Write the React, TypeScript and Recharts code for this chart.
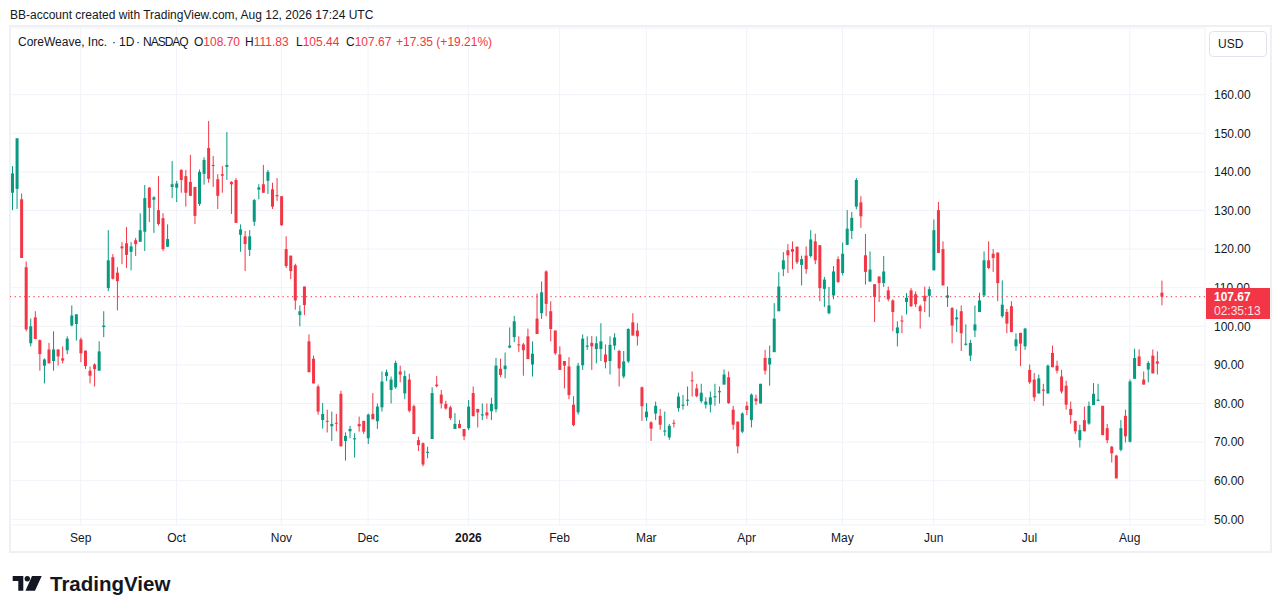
import React from "react";
import { Bar, CartesianGrid, ComposedChart, ReferenceLine, XAxis, YAxis } from "recharts";

const UP = "#089981";
const DOWN = "#F23645";
const TEXT = "#131722";
const GRID = "#F0F3FA";
const FONT = "'Liberation Sans', Arial, sans-serif";

// daily candles, [open, high, low, close]
const aug25 = [
  [134.6, 141.5, 130.1, 139.6], [135.6, 148.7, 130.4, 148.7], [132.9, 134.4, 117.7, 117.7],
  [115.3, 116.8, 98.7, 99.2], [95.6, 102.0, 94.8, 100.0], [102.3, 103.9, 96.7, 96.7],
  [96.4, 96.6, 88.5, 92.8], [89.8, 91.7, 85.2, 91.4], [94.0, 95.7, 90.4, 90.4],
  [91.0, 98.7, 88.5, 94.0], [94.0, 94.0, 89.8, 92.2], [91.7, 94.8, 90.4, 91.1],
  [93.8, 97.4, 92.8, 96.8], [100.2, 105.4, 100.0, 102.8], [100.6, 103.1, 96.3, 103.1],
];
const sep25 = [
  [96.6, 97.1, 90.7, 93.0], [93.7, 93.7, 88.9, 89.7], [88.5, 89.6, 85.2, 87.2],
  [90.1, 90.4, 84.4, 88.9], [88.5, 96.1, 88.5, 93.5], [99.8, 103.9, 97.2, 100.2],
  [109.9, 124.9, 109.1, 117.1], [117.9, 118.7, 112.1, 112.3], [113.9, 115.3, 104.1, 111.7],
  [120.7, 121.8, 116.1, 120.2], [121.5, 125.7, 115.1, 118.5], [119.3, 121.8, 114.5, 120.7],
  [122.3, 122.9, 118.2, 121.3], [121.9, 129.3, 121.9, 124.9], [124.5, 136.6, 119.5, 133.2],
  [135.9, 136.1, 127.0, 130.7], [132.8, 133.7, 124.2, 133.4], [130.1, 138.9, 126.1, 126.5],
  [128.0, 129.3, 119.5, 120.0], [120.6, 126.4, 120.6, 122.6], [136.1, 142.8, 133.2, 136.8],
];
const oct25 = [
  [135.9, 137.7, 132.2, 137.0], [140.5, 140.7, 134.6, 137.9], [138.9, 140.5, 131.0, 134.6],
  [137.4, 144.4, 133.8, 133.8], [136.1, 136.1, 126.5, 128.6], [131.7, 140.6, 131.2, 140.0],
  [139.5, 143.8, 136.7, 143.1], [146.2, 153.2, 137.2, 138.2], [141.8, 144.1, 136.1, 141.6],
  [138.1, 139.4, 130.4, 133.8], [139.4, 141.5, 134.6, 139.0], [141.3, 150.3, 137.9, 141.8],
  [137.4, 137.6, 129.1, 136.8], [137.9, 138.4, 126.8, 126.8], [123.7, 126.4, 119.3, 125.1],
  [123.3, 124.7, 114.3, 121.3], [119.8, 124.9, 118.2, 123.3], [127.1, 133.0, 126.0, 132.7],
  [135.4, 136.8, 132.9, 136.0], [136.8, 141.8, 134.6, 134.6], [137.7, 140.5, 134.3, 140.0],
  [135.5, 137.2, 130.4, 131.0], [134.0, 138.4, 132.5, 133.7],
];
const nov25 = [
  [133.7, 133.7, 126.0, 126.2], [120.0, 123.3, 115.1, 115.6], [118.3, 118.3, 112.2, 114.3],
  [115.8, 116.2, 104.3, 106.7], [102.9, 105.4, 100.0, 103.9], [110.3, 110.3, 102.9, 105.5],
  [96.1, 97.9, 88.1, 88.1], [91.6, 92.4, 85.2, 85.2], [84.4, 84.9, 77.1, 77.9],
  [75.7, 80.1, 73.5, 77.3], [75.5, 78.4, 72.5, 75.3], [74.1, 77.9, 70.3, 74.7],
  [75.0, 77.3, 72.8, 74.9], [82.5, 83.3, 68.9, 68.9], [70.3, 72.5, 65.2, 71.6],
  [72.8, 74.2, 71.0, 73.4], [70.7, 72.3, 66.0, 71.0], [74.7, 76.6, 72.7, 74.1],
  [75.5, 75.5, 72.1, 72.7],
];
const dec25 = [
  [71.0, 77.4, 69.5, 77.1], [77.3, 82.7, 75.9, 75.9], [75.4, 80.0, 73.4, 79.2],
  [79.0, 88.3, 77.9, 85.7], [87.1, 88.8, 85.8, 88.1], [83.5, 87.0, 80.0, 86.2],
  [84.2, 91.1, 83.8, 90.5], [88.3, 89.8, 85.5, 87.5], [82.6, 88.5, 81.1, 87.1],
  [86.2, 87.7, 77.7, 78.1], [79.3, 79.7, 72.1, 72.1], [70.5, 71.4, 67.7, 69.2],
  [69.7, 69.9, 63.7, 64.2], [67.2, 68.8, 65.8, 67.5], [70.8, 84.2, 70.8, 82.7],
  [84.9, 87.1, 84.2, 84.5], [82.3, 83.5, 78.7, 80.0], [79.9, 80.7, 78.4, 78.7],
  [79.0, 79.4, 75.7, 76.2], [73.4, 77.5, 73.4, 74.7], [74.7, 75.7, 73.6, 73.6],
  [73.4, 73.4, 70.5, 71.5],
];
const jan26 = [
  [73.6, 80.9, 73.1, 79.2], [82.7, 84.4, 76.7, 76.7], [78.6, 78.6, 73.8, 77.7],
  [76.9, 80.0, 75.7, 77.2], [77.7, 80.0, 76.0, 76.9], [78.0, 81.5, 75.7, 79.9],
  [78.5, 91.8, 77.7, 89.8], [89.0, 91.6, 86.8, 87.4], [88.9, 93.2, 86.5, 89.8],
  [94.5, 99.7, 94.3, 95.0], [97.2, 102.7, 95.9, 101.3], [95.3, 97.4, 93.3, 95.1],
  [95.3, 95.7, 87.2, 93.8], [97.4, 99.4, 91.5, 91.5], [90.1, 96.1, 87.0, 92.9],
  [102.0, 108.5, 98.0, 98.0], [103.4, 111.6, 101.9, 108.8], [114.2, 114.5, 102.6, 105.8],
  [103.9, 106.5, 96.1, 99.3], [98.9, 98.9, 92.6, 93.0],
];
const feb26 = [
  [92.7, 94.8, 88.7, 88.7], [91.0, 91.0, 83.9, 89.8], [89.6, 92.0, 81.1, 82.2],
  [79.7, 81.9, 74.1, 74.4], [77.7, 90.5, 77.1, 89.8], [89.9, 97.9, 88.7, 96.8],
  [94.7, 97.4, 93.9, 95.0], [95.7, 97.5, 88.7, 94.8], [94.1, 97.4, 90.4, 95.6],
  [94.1, 100.8, 91.0, 96.1], [92.7, 95.3, 89.1, 90.7], [91.0, 97.4, 87.5, 95.2],
  [95.0, 98.2, 93.9, 97.1], [93.6, 93.9, 84.4, 89.1], [87.0, 93.6, 86.5, 90.9],
  [90.9, 99.5, 90.5, 99.3], [101.0, 103.4, 97.6, 97.6], [98.9, 100.8, 95.0, 97.4],
  [84.2, 84.4, 75.5, 79.3],
];
const mar26 = [
  [76.4, 80.1, 75.5, 77.9], [75.1, 75.4, 70.3, 73.5], [77.4, 80.5, 75.7, 79.4],
  [76.8, 78.6, 73.2, 74.5], [72.7, 77.9, 71.6, 73.0], [71.2, 74.7, 70.6, 74.2],
  [75.0, 75.8, 73.8, 74.9], [78.8, 82.8, 77.9, 81.8], [79.4, 82.2, 78.4, 79.7],
  [80.7, 84.4, 79.4, 81.0], [86.0, 88.3, 81.8, 85.8], [83.9, 85.1, 81.6, 81.9],
  [80.6, 85.1, 80.1, 82.8], [79.7, 81.6, 78.7, 80.5], [79.7, 83.1, 77.7, 81.6],
  [81.6, 85.1, 79.4, 81.9], [82.9, 84.4, 80.0, 83.2], [84.9, 88.8, 84.9, 87.5],
  [86.8, 88.3, 79.9, 80.1], [78.4, 79.4, 73.2, 74.5], [75.3, 75.3, 67.1, 68.9],
  [72.7, 77.7, 72.3, 77.4],
];
const apr26 = [
  [79.4, 80.5, 77.0, 78.3], [75.7, 82.6, 73.8, 82.3], [81.3, 82.3, 79.6, 80.6],
  [80.0, 85.1, 80.0, 85.1], [91.8, 93.9, 87.5, 88.5], [90.1, 95.0, 84.6, 91.8],
  [93.3, 106.0, 93.3, 102.0], [103.9, 114.0, 103.9, 110.3], [114.8, 119.2, 113.0, 117.1],
  [119.7, 121.3, 113.8, 118.4], [120.0, 122.0, 114.8, 119.3], [120.6, 120.7, 116.1, 116.6],
  [115.9, 118.3, 110.6, 117.4], [118.3, 120.7, 113.6, 114.8], [118.2, 124.9, 117.8, 122.5],
  [122.0, 124.0, 116.1, 117.1], [121.0, 121.0, 106.5, 109.9], [109.7, 112.8, 105.0, 112.1],
  [103.4, 110.2, 103.1, 105.4], [108.0, 115.6, 107.0, 114.2], [117.4, 118.1, 111.2, 111.5],
];
const may26 = [
  [113.8, 121.7, 113.2, 118.8], [121.1, 130.1, 121.1, 125.3], [124.7, 129.6, 122.6, 128.1],
  [131.0, 138.4, 130.3, 137.9], [132.1, 133.7, 125.5, 128.5], [118.4, 123.9, 110.8, 114.1],
  [111.6, 119.4, 111.5, 114.7], [110.9, 110.9, 101.1, 107.6], [112.9, 112.9, 106.3, 111.2],
  [111.2, 118.2, 110.2, 114.2], [109.3, 110.3, 106.5, 107.0], [106.7, 107.0, 98.7, 103.7],
  [98.2, 101.3, 94.8, 99.7], [101.5, 102.8, 98.2, 101.3], [106.3, 108.6, 103.1, 107.4],
  [109.3, 109.9, 105.0, 105.2], [108.3, 109.0, 105.0, 105.7], [105.2, 105.6, 99.4, 103.9],
  [107.9, 110.3, 103.7, 106.5], [107.9, 110.3, 102.4, 109.6],
];
const jun26 = [
  [114.5, 127.7, 114.5, 124.9], [130.1, 132.2, 119.0, 119.0], [120.0, 122.0, 110.6, 110.6],
  [107.4, 110.3, 105.0, 108.0], [104.7, 105.0, 95.6, 100.2], [101.8, 104.4, 98.5, 102.3],
  [103.9, 105.4, 93.6, 98.2], [95.2, 100.5, 95.0, 95.5], [92.4, 96.5, 91.0, 95.7],
  [98.9, 105.4, 97.2, 100.5], [103.7, 108.7, 103.7, 106.7], [108.0, 119.4, 107.6, 117.1],
  [117.1, 122.0, 114.8, 115.1], [118.8, 120.0, 114.1, 117.7], [119.1, 119.1, 106.5, 111.2],
  [102.6, 111.9, 102.2, 105.6], [103.7, 104.5, 98.2, 100.7], [105.2, 106.5, 98.5, 98.5],
  [94.8, 98.2, 93.6, 96.6], [98.3, 98.3, 89.7, 95.5], [94.8, 99.6, 93.9, 99.4],
];
const jul26 = [
  [88.7, 90.1, 85.1, 85.5], [86.2, 87.9, 80.6, 81.6], [82.6, 87.5, 82.6, 86.5],
  [83.6, 85.1, 79.4, 83.3], [82.6, 90.1, 82.6, 89.8], [93.1, 95.0, 89.4, 89.4],
  [89.8, 91.1, 87.8, 88.5], [87.0, 88.7, 82.6, 83.1], [84.6, 85.9, 78.4, 79.7],
  [78.6, 80.5, 74.8, 77.0], [75.5, 75.5, 72.1, 72.8], [70.5, 74.5, 68.6, 73.1],
  [75.7, 79.2, 72.8, 72.8], [74.8, 80.5, 74.5, 79.4], [79.6, 85.3, 79.6, 82.5],
  [80.7, 85.1, 80.6, 81.0], [79.4, 79.4, 71.8, 71.8], [73.6, 74.7, 69.7, 70.5],
  [68.8, 69.0, 64.7, 67.1], [66.5, 66.7, 60.6, 60.6], [68.0, 75.7, 67.6, 73.6],
  [76.8, 78.4, 69.9, 71.5],
];
const aug26 = [
  [70.1, 86.2, 69.9, 85.7], [86.4, 94.2, 86.4, 91.8], [92.2, 94.0, 89.7, 89.7],
  [86.2, 88.3, 84.9, 84.9], [88.8, 91.0, 85.5, 90.5], [92.4, 94.0, 87.8, 87.8],
  [90.9, 93.5, 87.5, 90.32], [108.7, 111.83, 105.44, 107.67],
];

const holidays = [
  "2025-09-01", "2025-11-27", "2025-12-25", "2026-01-01", "2026-01-19",
  "2026-02-16", "2026-04-03", "2026-05-25", "2026-06-19", "2026-07-03",
];
const monthNames = ["Jan", "Feb", "Mar", "Apr", "May", "Jun", "Jul", "Aug", "Sep", "Oct", "Nov", "Dec"];
const priceTicks = [50, 60, 70, 80, 90, 100, 110, 120, 130, 140, 150, 160];
const lastPrice = 107.67;

function tradingDays(from: string, to: string) {
  const out: string[] = [];
  const end = Date.parse(to + "T00:00:00Z");
  for (let t = Date.parse(from + "T00:00:00Z"); t <= end; t += 86400000) {
    const d = new Date(t);
    const s = d.toISOString().slice(0, 10);
    const wd = d.getUTCDay();
    if (wd === 0 || wd === 6 || holidays.includes(s)) continue;
    out.push(s);
  }
  return out;
}

const candles = [
  ...aug25, ...sep25, ...oct25, ...nov25, ...dec25, ...jan26,
  ...feb26, ...mar26, ...apr26, ...may26, ...jun26, ...jul26, ...aug26,
];
const dates = tradingDays("2025-08-11", "2026-08-12");
const data = candles.map((c, i) => ({ date: dates[i], open: c[0], high: c[1], low: c[2], close: c[3] }));
const monthTicks = data
  .filter((d, i) => i > 0 && d.date.slice(0, 7) !== data[i - 1].date.slice(0, 7))
  .map((d) => d.date);

function monthLabel(s: string) {
  const m = Number(s.slice(5, 7));
  return m === 1 ? s.slice(0, 4) : monthNames[m - 1];
}

function Candle(props: any) {
  const { x, y, width, height, payload } = props;
  const { open, high, low, close } = payload;
  const color = close >= open ? UP : DOWN;
  const h = Math.abs(height);
  const top = height < 0 ? y + height : y;
  const k = high > low ? h / (high - low) : 0;
  const bodyTop = top + (high - Math.max(open, close)) * k;
  const bodyH = Math.max(1, Math.abs(open - close) * k);
  const cx = x + width / 2;
  return (
    <g>
      <line x1={cx} x2={cx} y1={top} y2={top + h} stroke={color} strokeWidth={1} />
      <rect x={x} y={bodyTop} width={width} height={bodyH} fill={color} />
    </g>
  );
}

function MonthTick(props: any) {
  const { x, y, payload } = props;
  const label = monthLabel(payload.value);
  return (
    <text x={x} y={y} dy={17} textAnchor="middle" fill={TEXT} fontSize={12}
      fontFamily={FONT} fontWeight={label === "2026" ? 700 : 400}>
      {label}
    </text>
  );
}

export default function App() {
  return (
    <div style={{ position: "fixed", left: 0, top: 0, width: 1281, height: 613, background: "#fff",
      fontFamily: FONT, color: TEXT, overflow: "hidden" }}>
      <div style={{ position: "absolute", left: 9, top: 25, width: 1263, height: 528,
        border: "2px solid #EEF0F3", boxSizing: "border-box" }} />
      <ComposedChart width={1281} height={613} data={data}
        margin={{ top: 28, right: 10, bottom: 60, left: 10 }}
        style={{ position: "absolute", left: 0, top: 0 }}>
        <CartesianGrid stroke={GRID} strokeWidth={1} />
        <XAxis dataKey="date" ticks={monthTicks} interval={0} tick={<MonthTick />}
          axisLine={false} tickLine={false} tickSize={0} tickMargin={0} height={28}
          padding={{ left: 0, right: 41 }} />
        <YAxis orientation="right" width={66} domain={[48.52, 177.28]} allowDataOverflow
          ticks={priceTicks} interval={0} axisLine={false} tickLine={false} tickSize={0} tickMargin={9}
          tick={{ fill: TEXT, fontSize: 12, fontFamily: FONT }}
          tickFormatter={(v: number) => v.toFixed(2)} />
        <ReferenceLine y={lastPrice} stroke={DOWN} strokeWidth={1} strokeDasharray="1.3 3.4" />
        <Bar dataKey={(d: any) => [d.low, d.high]} barSize={3} shape={<Candle />}
          isAnimationActive={false} />
      </ComposedChart>

      <div style={{ position: "absolute", left: 10, top: 8, fontSize: 12, lineHeight: "14px", whiteSpace: "nowrap" }}>
        BB-account created with TradingView.com, Aug 12, 2026 17:24 UTC
      </div>
      <div style={{ position: "absolute", top: 35, left: 0, fontSize: 12, lineHeight: "14px", whiteSpace: "nowrap" }}>
        <span style={{ position: "absolute", left: 18 }}>CoreWeave, Inc.</span>
        <span style={{ position: "absolute", left: 112 }}>·</span>
        <span style={{ position: "absolute", left: 119 }}>1D</span>
        <span style={{ position: "absolute", left: 136 }}>·</span>
        <span style={{ position: "absolute", left: 143, letterSpacing: -1 }}>NASDAQ</span>
        <span style={{ position: "absolute", left: 194 }}>O<span style={{ color: DOWN }}>108.70</span></span>
        <span style={{ position: "absolute", left: 245 }}>H<span style={{ color: DOWN }}>111.83</span></span>
        <span style={{ position: "absolute", left: 296 }}>L<span style={{ color: DOWN }}>105.44</span></span>
        <span style={{ position: "absolute", left: 346 }}>C<span style={{ color: DOWN }}>107.67</span></span>
        <span style={{ position: "absolute", left: 396, color: DOWN }}>+17.35 (+19.21%)</span>
      </div>

      <div style={{ position: "absolute", left: 1209, top: 31, width: 58, height: 26, boxSizing: "border-box",
        border: "1px solid #E0E3EB", borderRadius: 4, fontSize: 12, lineHeight: "24px", paddingLeft: 8 }}>
        USD
      </div>

      <div style={{ position: "absolute", left: 1206, top: 288, width: 64, height: 31, background: DOWN,
        color: "#fff", fontSize: 12, lineHeight: "14px", paddingLeft: 8, paddingTop: 2, boxSizing: "border-box" }}>
        <div style={{ fontWeight: 700 }}>107.67</div>
        <div style={{ opacity: 0.85 }}>02:35:13</div>
      </div>

      <svg style={{ position: "absolute", left: 0, top: 570 }} width={48} height={24}>
        <path d="M12.7 6 H23.3 V20.7 H18.3 V11 H12.7 Z" fill={TEXT} />
        <circle cx={27.3} cy={8.7} r={2.7} fill={TEXT} />
        <path d="M32 6 H41.7 L35 20.7 H25.5 Z" fill={TEXT} />
      </svg>
      <div style={{ position: "absolute", left: 50, top: 574, fontSize: 20.5, lineHeight: "20px",
        fontWeight: 700 }}>
        TradingView
      </div>
    </div>
  );
}
